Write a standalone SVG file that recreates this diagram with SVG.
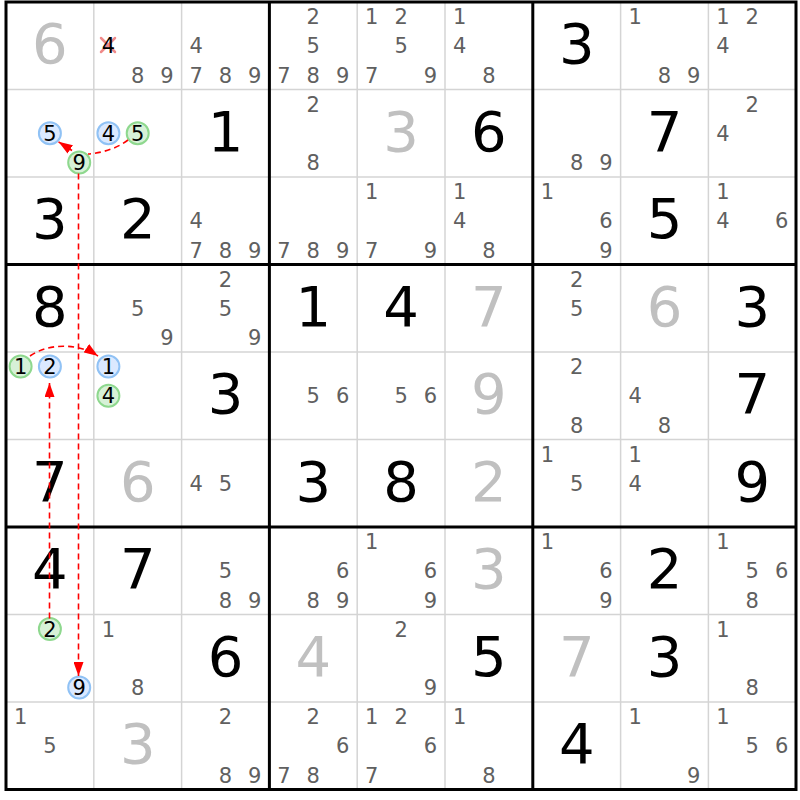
<svg xmlns="http://www.w3.org/2000/svg" width="800" height="800" viewBox="0 0 800 800">
<style>
text{font-family:"DejaVu Sans","Verdana",sans-serif;text-anchor:middle}
.g{font-size:56px;fill:#000}
.s{font-size:56px;fill:#c0c0c0}
.c{font-size:21px;fill:#606060}
.cd{font-size:21px;fill:#000}
.cb{fill:#dbe9ff;stroke:#90c2f5;stroke-width:2}
.cg{fill:#d7f1d7;stroke:#8ed88e;stroke-width:2}
.thin{stroke:#d4d4d4;stroke-width:1.5}
.thick{stroke:#000;stroke-width:3}
.lk{fill:none;stroke:#f00;stroke-width:1.6;stroke-dasharray:6,4}
.x{stroke:#f08a8a;stroke-width:2.5;stroke-linecap:round}
</style>
<defs>
<marker id="ah" markerWidth="14" markerHeight="10" refX="14" refY="5" orient="auto" markerUnits="userSpaceOnUse"><path d="M0,0 L14,5 L0,10 z" fill="#f00"/></marker>
</defs>
<rect width="800" height="800" fill="#fff"/>
<g id="grid">
<g class="thin">
<line x1="93.8" y1="2" x2="93.8" y2="789.5"/><line x1="181.6" y1="2" x2="181.6" y2="789.5"/>
<line x1="357.2" y1="2" x2="357.2" y2="789.5"/><line x1="445" y1="2" x2="445" y2="789.5"/>
<line x1="620.6" y1="2" x2="620.6" y2="789.5"/><line x1="708.4" y1="2" x2="708.4" y2="789.5"/>
<line x1="6" y1="89.5" x2="796" y2="89.5"/><line x1="6" y1="177" x2="796" y2="177"/>
<line x1="6" y1="352" x2="796" y2="352"/><line x1="6" y1="439.5" x2="796" y2="439.5"/>
<line x1="6" y1="614.5" x2="796" y2="614.5"/><line x1="6" y1="702" x2="796" y2="702"/>
</g>
<g class="thick">
<line x1="269.4" y1="2" x2="269.4" y2="789.5"/><line x1="532.8" y1="2" x2="532.8" y2="789.5"/>
<line x1="6" y1="264.5" x2="796" y2="264.5"/><line x1="6" y1="527" x2="796" y2="527"/>
<rect x="6" y="2" width="790" height="787.5" fill="none"/>
</g>
</g>
<!-- Row 1 -->
<g id="r1c1"><text class="s" x="49.9" y="63.25">6</text></g>
<g id="r1c2"><line class="x" x1="101" y1="38" x2="115" y2="52"/><line class="x" x1="115" y1="38" x2="101" y2="52"/>
<text class="cd" x="108.4" y="53.3">4</text><text class="c" x="137.7" y="82.5">8</text><text class="c" x="167" y="82.5">9</text></g>
<g id="r1c3"><text class="c" x="196.2" y="53.3">4</text><text class="c" x="196.2" y="82.5">7</text><text class="c" x="225.5" y="82.5">8</text><text class="c" x="254.8" y="82.5">9</text></g>
<g id="r1c4"><text class="c" x="313.3" y="24.1">2</text><text class="c" x="313.3" y="53.3">5</text><text class="c" x="284" y="82.5">7</text><text class="c" x="313.3" y="82.5">8</text><text class="c" x="342.6" y="82.5">9</text></g>
<g id="r1c5"><text class="c" x="371.8" y="24.1">1</text><text class="c" x="401.1" y="24.1">2</text><text class="c" x="401.1" y="53.3">5</text><text class="c" x="371.8" y="82.5">7</text><text class="c" x="430.4" y="82.5">9</text></g>
<g id="r1c6"><text class="c" x="459.6" y="24.1">1</text><text class="c" x="459.6" y="53.3">4</text><text class="c" x="488.9" y="82.5">8</text></g>
<g id="r1c7"><text class="g" x="576.7" y="63.25">3</text></g>
<g id="r1c8"><text class="c" x="635.2" y="24.1">1</text><text class="c" x="664.5" y="82.5">8</text><text class="c" x="693.8" y="82.5">9</text></g>
<g id="r1c9"><text class="c" x="723" y="24.1">1</text><text class="c" x="752.3" y="24.1">2</text><text class="c" x="723" y="53.3">4</text></g>
<!-- Row 2 -->
<g id="r2c1"><circle class="cb" cx="49.9" cy="133.25" r="11"/><text class="cd" x="49.9" y="140.8">5</text>
<circle class="cg" cx="79.2" cy="162.45" r="11"/><text class="cd" x="79.2" y="170">9</text></g>
<g id="r2c2"><circle class="cb" cx="108.4" cy="133.25" r="11"/><text class="cd" x="108.4" y="140.8">4</text>
<circle class="cg" cx="137.7" cy="133.25" r="11"/><text class="cd" x="137.7" y="140.8">5</text></g>
<g id="r2c3"><text class="g" x="225.5" y="150.75">1</text></g>
<g id="r2c4"><text class="c" x="313.3" y="111.6">2</text><text class="c" x="313.3" y="170">8</text></g>
<g id="r2c5"><text class="s" x="401.1" y="150.75">3</text></g>
<g id="r2c6"><text class="g" x="488.9" y="150.75">6</text></g>
<g id="r2c7"><text class="c" x="576.7" y="170">8</text><text class="c" x="606" y="170">9</text></g>
<g id="r2c8"><text class="g" x="664.5" y="150.75">7</text></g>
<g id="r2c9"><text class="c" x="752.3" y="111.6">2</text><text class="c" x="723" y="140.8">4</text></g>
<!-- Row 3 -->
<g id="r3c1"><text class="g" x="49.9" y="238.25">3</text></g>
<g id="r3c2"><text class="g" x="137.7" y="238.25">2</text></g>
<g id="r3c3"><text class="c" x="196.2" y="228.3">4</text><text class="c" x="196.2" y="257.5">7</text><text class="c" x="225.5" y="257.5">8</text><text class="c" x="254.8" y="257.5">9</text></g>
<g id="r3c4"><text class="c" x="284" y="257.5">7</text><text class="c" x="313.3" y="257.5">8</text><text class="c" x="342.6" y="257.5">9</text></g>
<g id="r3c5"><text class="c" x="371.8" y="199.1">1</text><text class="c" x="371.8" y="257.5">7</text><text class="c" x="430.4" y="257.5">9</text></g>
<g id="r3c6"><text class="c" x="459.6" y="199.1">1</text><text class="c" x="459.6" y="228.3">4</text><text class="c" x="488.9" y="257.5">8</text></g>
<g id="r3c7"><text class="c" x="547.4" y="199.1">1</text><text class="c" x="606" y="228.3">6</text><text class="c" x="606" y="257.5">9</text></g>
<g id="r3c8"><text class="g" x="664.5" y="238.25">5</text></g>
<g id="r3c9"><text class="c" x="723" y="199.1">1</text><text class="c" x="723" y="228.3">4</text><text class="c" x="781.6" y="228.3">6</text></g>
<!-- Row 4 -->
<g id="r4c1"><text class="g" x="49.9" y="325.75">8</text></g>
<g id="r4c2"><text class="c" x="137.7" y="315.8">5</text><text class="c" x="167" y="345">9</text></g>
<g id="r4c3"><text class="c" x="225.5" y="286.6">2</text><text class="c" x="225.5" y="315.8">5</text><text class="c" x="254.8" y="345">9</text></g>
<g id="r4c4"><text class="g" x="313.3" y="325.75">1</text></g>
<g id="r4c5"><text class="g" x="401.1" y="325.75">4</text></g>
<g id="r4c6"><text class="s" x="488.9" y="325.75">7</text></g>
<g id="r4c7"><text class="c" x="576.7" y="286.6">2</text><text class="c" x="576.7" y="315.8">5</text></g>
<g id="r4c8"><text class="s" x="664.5" y="325.75">6</text></g>
<g id="r4c9"><text class="g" x="752.3" y="325.75">3</text></g>
<!-- Row 5 -->
<g id="r5c1"><circle class="cg" cx="20.6" cy="366.55" r="11"/><text class="cd" x="20.6" y="374.1">1</text>
<circle class="cb" cx="49.9" cy="366.55" r="11"/><text class="cd" x="49.9" y="374.1">2</text></g>
<g id="r5c2"><circle class="cb" cx="108.4" cy="366.55" r="11"/><text class="cd" x="108.4" y="374.1">1</text>
<circle class="cg" cx="108.4" cy="395.75" r="11"/><text class="cd" x="108.4" y="403.3">4</text></g>
<g id="r5c3"><text class="g" x="225.5" y="413.25">3</text></g>
<g id="r5c4"><text class="c" x="313.3" y="403.3">5</text><text class="c" x="342.6" y="403.3">6</text></g>
<g id="r5c5"><text class="c" x="401.1" y="403.3">5</text><text class="c" x="430.4" y="403.3">6</text></g>
<g id="r5c6"><text class="s" x="488.9" y="413.25">9</text></g>
<g id="r5c7"><text class="c" x="576.7" y="374.1">2</text><text class="c" x="576.7" y="432.5">8</text></g>
<g id="r5c8"><text class="c" x="635.2" y="403.3">4</text><text class="c" x="664.5" y="432.5">8</text></g>
<g id="r5c9"><text class="g" x="752.3" y="413.25">7</text></g>
<!-- Row 6 -->
<g id="r6c1"><text class="g" x="49.9" y="500.75">7</text></g>
<g id="r6c2"><text class="s" x="137.7" y="500.75">6</text></g>
<g id="r6c3"><text class="c" x="196.2" y="490.8">4</text><text class="c" x="225.5" y="490.8">5</text></g>
<g id="r6c4"><text class="g" x="313.3" y="500.75">3</text></g>
<g id="r6c5"><text class="g" x="401.1" y="500.75">8</text></g>
<g id="r6c6"><text class="s" x="488.9" y="500.75">2</text></g>
<g id="r6c7"><text class="c" x="547.4" y="461.6">1</text><text class="c" x="576.7" y="490.8">5</text></g>
<g id="r6c8"><text class="c" x="635.2" y="461.6">1</text><text class="c" x="635.2" y="490.8">4</text></g>
<g id="r6c9"><text class="g" x="752.3" y="500.75">9</text></g>
<!-- Row 7 -->
<g id="r7c1"><text class="g" x="49.9" y="588.25">4</text></g>
<g id="r7c2"><text class="g" x="137.7" y="588.25">7</text></g>
<g id="r7c3"><text class="c" x="225.5" y="578.3">5</text><text class="c" x="225.5" y="607.5">8</text><text class="c" x="254.8" y="607.5">9</text></g>
<g id="r7c4"><text class="c" x="342.6" y="578.3">6</text><text class="c" x="313.3" y="607.5">8</text><text class="c" x="342.6" y="607.5">9</text></g>
<g id="r7c5"><text class="c" x="371.8" y="549.1">1</text><text class="c" x="430.4" y="578.3">6</text><text class="c" x="430.4" y="607.5">9</text></g>
<g id="r7c6"><text class="s" x="488.9" y="588.25">3</text></g>
<g id="r7c7"><text class="c" x="547.4" y="549.1">1</text><text class="c" x="606" y="578.3">6</text><text class="c" x="606" y="607.5">9</text></g>
<g id="r7c8"><text class="g" x="664.5" y="588.25">2</text></g>
<g id="r7c9"><text class="c" x="723" y="549.1">1</text><text class="c" x="752.3" y="578.3">5</text><text class="c" x="781.6" y="578.3">6</text><text class="c" x="752.3" y="607.5">8</text></g>
<!-- Row 8 -->
<g id="r8c1"><circle class="cg" cx="49.9" cy="629.05" r="11"/><text class="cd" x="49.9" y="636.6">2</text>
<circle class="cb" cx="79.2" cy="687.45" r="11"/><text class="cd" x="79.2" y="695">9</text></g>
<g id="r8c2"><text class="c" x="108.4" y="636.6">1</text><text class="c" x="137.7" y="695">8</text></g>
<g id="r8c3"><text class="g" x="225.5" y="675.75">6</text></g>
<g id="r8c4"><text class="s" x="313.3" y="675.75">4</text></g>
<g id="r8c5"><text class="c" x="401.1" y="636.6">2</text><text class="c" x="430.4" y="695">9</text></g>
<g id="r8c6"><text class="g" x="488.9" y="675.75">5</text></g>
<g id="r8c7"><text class="s" x="576.7" y="675.75">7</text></g>
<g id="r8c8"><text class="g" x="664.5" y="675.75">3</text></g>
<g id="r8c9"><text class="c" x="723" y="636.6">1</text><text class="c" x="752.3" y="695">8</text></g>
<!-- Row 9 -->
<g id="r9c1"><text class="c" x="20.6" y="724.1">1</text><text class="c" x="49.9" y="753.3">5</text></g>
<g id="r9c2"><text class="s" x="137.7" y="763.25">3</text></g>
<g id="r9c3"><text class="c" x="225.5" y="724.1">2</text><text class="c" x="225.5" y="782.5">8</text><text class="c" x="254.8" y="782.5">9</text></g>
<g id="r9c4"><text class="c" x="313.3" y="724.1">2</text><text class="c" x="342.6" y="753.3">6</text><text class="c" x="284" y="782.5">7</text><text class="c" x="313.3" y="782.5">8</text></g>
<g id="r9c5"><text class="c" x="371.8" y="724.1">1</text><text class="c" x="401.1" y="724.1">2</text><text class="c" x="430.4" y="753.3">6</text><text class="c" x="371.8" y="782.5">7</text></g>
<g id="r9c6"><text class="c" x="459.6" y="724.1">1</text><text class="c" x="488.9" y="782.5">8</text></g>
<g id="r9c7"><text class="g" x="576.7" y="763.25">4</text></g>
<g id="r9c8"><text class="c" x="635.2" y="724.1">1</text><text class="c" x="693.8" y="782.5">9</text></g>
<g id="r9c9"><text class="c" x="723" y="724.1">1</text><text class="c" x="752.3" y="753.3">5</text><text class="c" x="781.6" y="753.3">6</text></g>
<!-- Connectors -->
<g id="connectors">
<path class="lk" d="M128,140 Q112,152 88,154"/>
<path class="lk" d="M72,150.5 L58.5,141.8" marker-end="url(#ah)"/>
<path class="lk" d="M78.5,173.5 L78.5,676" marker-end="url(#ah)"/>
<path class="lk" d="M49.5,618.5 L49.5,383" marker-end="url(#ah)"/>
<path class="lk" d="M30,356 C50,342 80,344 98,356" marker-end="url(#ah)"/>
</g>
</svg>
